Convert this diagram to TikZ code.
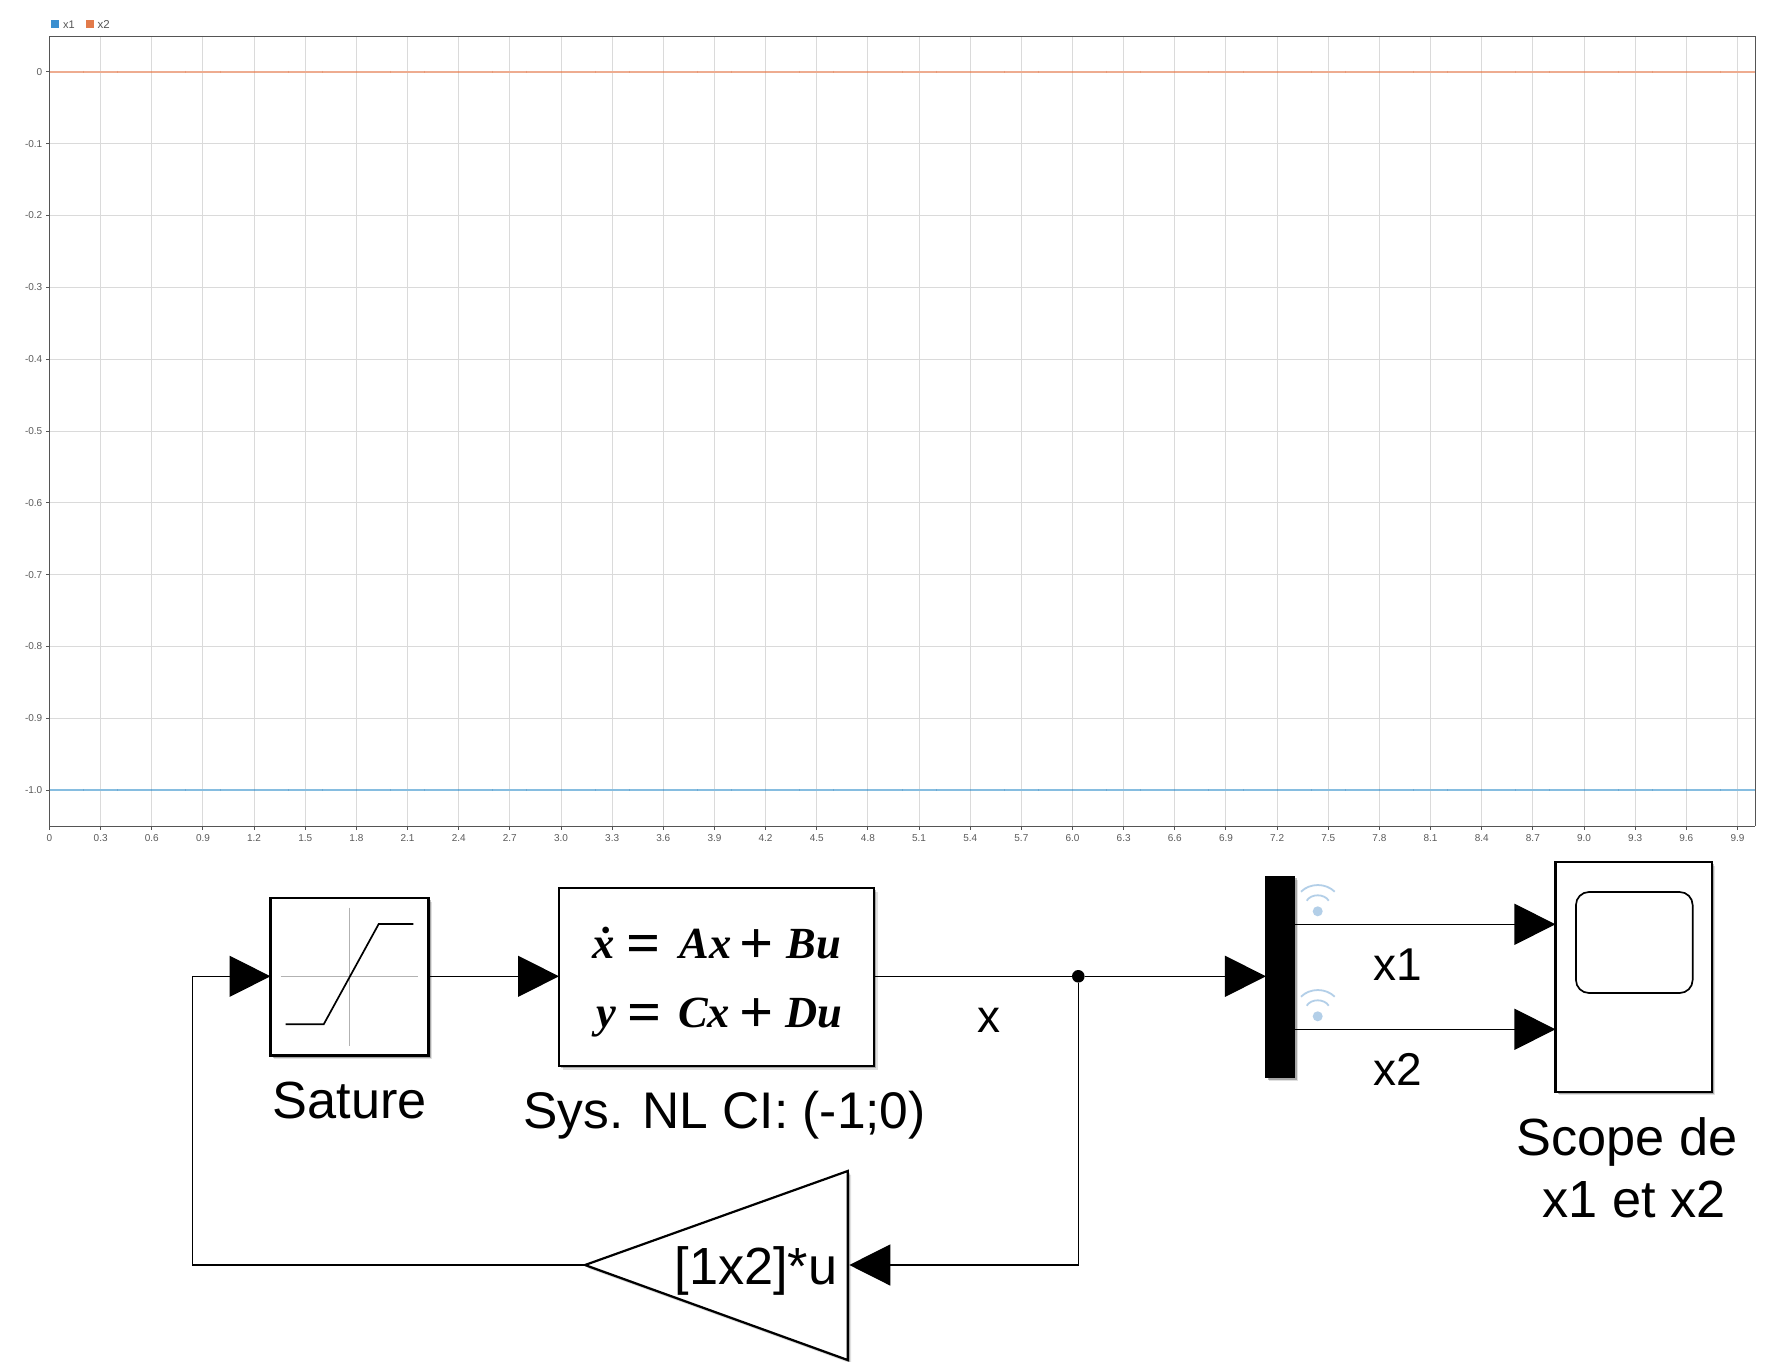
\documentclass[tikz,border=0pt]{standalone}
\usepackage{fontspec}
\setmainfont{Liberation Sans}
\newfontfamily\eqfont{Liberation Serif}
\usetikzlibrary{arrows.meta,shadows,calc}
\definecolor{gridc}{HTML}{DADADA}
\definecolor{axisc}{HTML}{555555}
\definecolor{tickc}{HTML}{5A5A5A}
\definecolor{sblue}{HTML}{86BDE0}
\definecolor{sorange}{HTML}{EEAC90}
\definecolor{dblue}{HTML}{6FAAD2}
\definecolor{dorange}{HTML}{E89A78}
\definecolor{lblue}{HTML}{3A8FD0}
\definecolor{lorange}{HTML}{E27A4A}
\definecolor{wific}{HTML}{B3CFE8}
\newcommand{\eqv}[1]{{\eqfont\bfseries\itshape\fontsize{44.5}{50}\selectfont #1}}
\newcommand{\eqo}[1]{{\eqfont\bfseries\fontsize{60}{60}\selectfont\raisebox{-5.5pt}{#1}}}
\tikzset{
  softshadow/.style={drop shadow={shadow xshift=3.5pt,shadow yshift=-3.5pt,opacity=.12,fill=black},
                     drop shadow={shadow xshift=2.2pt,shadow yshift=-2.2pt,opacity=.25,fill=black}},
  block/.style={draw=black,line width=2.2pt,fill=white,rectangle,inner sep=0pt,outer sep=0pt,softshadow},
  sig/.style={line width=1.3pt,draw=black},
  sigarrow/.style={sig,-{Triangle[length=41pt,width=41pt]}},
  biglabel/.style={font=\fontsize{52.3}{60}\selectfont,inner sep=0pt,anchor=base,text=black},
  wirelabel/.style={font=\fontsize{46}{55}\selectfont,inner sep=0pt,anchor=base west,text=black},
  ticklabel/.style={font=\fontsize{10}{12}\selectfont,text=tickc,inner sep=0pt},
  gridline/.style={draw=gridc,line width=1pt},
  axisline/.style={draw=axisc,line width=1pt},
  wifiarc/.style={draw=wific,line width=1.8pt},
  iconcurve/.style={draw=black,line width=1.7pt},
  crossline/.style={draw=black!30,line width=1.3pt},
}
\begin{document}
\begin{tikzpicture}[x=1pt,y=-1pt]
\useasboundingbox (0,0) rectangle (1786,1362);
\fill[white] (0,0) rectangle (1786,1362);
% ---- plot ----
\foreach \i in {0,...,10}{
  \pgfmathsetmacro\yy{71.9+71.82*\i}
  \ifnum\i>0 \draw[gridline] (49.5,\yy) -- (1755,\yy);\fi
  \draw[axisline] (46,\yy) -- (49.5,\yy);
}
\foreach \i in {1,...,33}{
  \pgfmathsetmacro\xx{49.5+51.15*\i}
  \draw[gridline] (\xx,36.5) -- (\xx,826);
}
\foreach \i in {0,...,33}{
  \pgfmathsetmacro\xx{49.5+51.15*\i}
  \draw[axisline] (\xx,826) -- (\xx,829.5);
  \pgfmathtruncatemacro\ta{3*\i/10}
  \pgfmathtruncatemacro\tb{mod(3*\i,10)}
  \ifnum\i=0 \node[ticklabel] (xt\i) at (\xx,838) {0};
  \else \node[ticklabel] (xt\i) at (\xx,838) {\ta.\tb};\fi
}
\node[ticklabel,anchor=east] (yt0) at (42.5,72) {0};
\foreach \i in {1,...,9}{
  \pgfmathsetmacro\yy{71.9+71.82*\i}
  \node[ticklabel,anchor=east] (yt\i) at (42.5,\yy) {-0.\i};
}
\node[ticklabel,anchor=east] (yt10) at (42.5,790.1) {-1.0};
\draw[sorange,line width=2.3pt] (49.5,71.9) -- (1755,71.9);
\draw[sblue,line width=2.5pt] (49.5,790.1) -- (1755,790.1);
\foreach \i in {1,...,49}{
  \pgfmathsetmacro\xx{49.5+34.1*\i}
  \draw[dorange,line width=1pt] (\xx,71) -- (\xx,72.8);
  \draw[dblue,line width=1pt] (\xx,789.2) -- (\xx,791);
}
\draw[axisline] (1755,826) -- (49.5,826) -- (49.5,36.5) -- (1755,36.5) -- (1755,826);
% legend
\fill[lblue] (51,20) rectangle (59,28);
\node[ticklabel,anchor=west,text=axisc,font=\fontsize{11}{13}\selectfont] (leg1) at (63,24.3) {x1};
\fill[lorange] (86,20) rectangle (94,28);
\node[ticklabel,anchor=west,text=axisc,font=\fontsize{11.5}{13}\selectfont] (leg2) at (97.5,24.3) {x2};
% ---- blocks ----
\node[block,minimum width=158pt,minimum height=157.5pt] (sat) at (349.5,976.8) {};
\draw[crossline] (280.7,976.3) -- (418.3,976.3);
\draw[crossline] (349.3,907.7) -- (349.3,1045.7);
\draw[iconcurve] (285.7,1024.3) -- (323.7,1024.3) -- (378.7,924) -- (413.3,924);
\node[biglabel] (satlab) at (350,1118) {Sature};
\node[block,minimum width=315pt,minimum height=178pt] (state) at (716.5,977) {};
\node[inner sep=0pt,anchor=base west] (eq1) at (592,958)
  {\eqv{ẋ}\hspace{12pt}\eqo{=}\hspace{19pt}\eqv{Ax}\hspace{8pt}\eqo{+}\hspace{13pt}\eqv{Bu}};
\node[inner sep=0pt,anchor=base west] (eq2) at (596,1027)
  {\eqv{y}\hspace{12pt}\eqo{=}\hspace{16pt}\eqv{Cx}\hspace{9pt}\eqo{+}\hspace{12pt}\eqv{Du}};
\node[biglabel,font=\fontsize{51.5}{60}\selectfont] (statelab) at (724.5,1128) {Sys. NL CI: (-1;0)};
\node[block,fill=black,minimum width=28.7pt,minimum height=201.7pt,line width=0pt] (bar) at (1280.3,976.9) {};
\node[block,minimum width=156.5pt,minimum height=229.7pt] (scope) at (1633.7,976.9) {};
\node[draw=black,line width=1.7pt,rounded corners=13pt,minimum width=116.7pt,minimum height=101pt,inner sep=0pt,outer sep=0pt] (screen) at (1634.3,942.5) {};
\node[biglabel] (scopelab1) at (1627,1155) {Scope de};
\node[biglabel] (scopelab2) at (1634,1217) {x1 et x2};
% wifi icons
\foreach \dy in {0,105}{
  \begin{scope}[yshift=-\dy pt]
    \fill[wific] (1317.7,911.3) circle (5pt);
    \draw[wifiarc] (1301,891.7) .. controls (1310,882.8) and (1325.7,882.8) .. (1334.7,891.7);
    \draw[wifiarc] (1306.7,900.7) .. controls (1311,893.5) and (1324.4,893.5) .. (1328.7,900.7);
  \end{scope}
}
% gain
\coordinate (gaintip) at (585,1265);
\coordinate (gaintop) at (847.7,1171);
\coordinate (gainbot) at (847.7,1360);
\coordinate (gainin) at (849.3,1265);
\fill[black,opacity=.12] ($(gaintip)+(3.5,3.5)$) -- ($(gaintop)+(3.5,3.5)$) -- ($(gainbot)+(3.5,3.5)$) -- cycle;
\fill[black,opacity=.25] ($(gaintip)+(2.2,2.2)$) -- ($(gaintop)+(2.2,2.2)$) -- ($(gainbot)+(2.2,2.2)$) -- cycle;
\draw[black,line width=2.2pt,fill=white,line join=miter] (gaintip) -- (gaintop) -- (gainbot) -- cycle;
\node[biglabel,anchor=base east] (gainlab) at (837.5,1284) {[1x2]*u};
% ---- connectors ----
\node[circle,fill=black,minimum size=12.6pt,inner sep=0pt] (dot) at (1078.3,976.3) {};
\coordinate (x1from) at (bar.east |- 0,924.3);
\coordinate (x1to) at (scope.west |- 0,924.3);
\coordinate (x2from) at (bar.east |- 0,1029.3);
\coordinate (x2to) at (scope.west |- 0,1029.3);
\coordinate (satleft) at (192.3,1265);
\draw[sigarrow] (gaintip) -- (satleft) |- (sat.west |- dot);
\draw[sigarrow] (sat.east |- dot) -- (state.west |- dot);
\draw[sig] (state.east |- dot) -- (dot);
\draw[sigarrow] (dot) -- (bar.west |- dot);
\draw[sigarrow] (dot) |- (gainin);
\draw[sigarrow] (x1from) -- (x1to);
\draw[sigarrow] (x2from) -- (x2to);
\node[wirelabel] (xlab) at (977,1032) {x};
\node[wirelabel] (x1lab) at (1373,980) {x1};
\node[wirelabel] (x2lab) at (1373,1085) {x2};
\end{tikzpicture}
\end{document}
